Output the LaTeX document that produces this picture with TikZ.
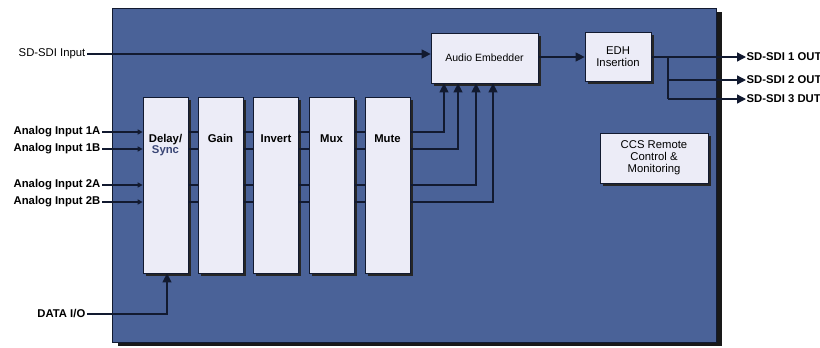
\documentclass[tikz,border=0pt]{standalone}
\usepackage{fontspec}
\setmainfont{Liberation Sans}
\usetikzlibrary{arrows.meta,shadows}
\definecolor{panelc}{RGB}{74,98,152}
\definecolor{boxc}{RGB}{236,236,247}
\definecolor{wirec}{RGB}{18,26,48}
\definecolor{syncc}{RGB}{58,70,118}
\begin{document}
\begin{tikzpicture}[x=1pt,y=-1pt,
  font=\fontsize{11.3}{12}\selectfont,
  shad/.style={drop shadow={shadow xshift=2.5pt,shadow yshift=-2.5pt,fill=black!85,opacity=1}},
  blk/.style={draw=wirec,line width=0.7pt,fill=boxc,shad,inner sep=0pt,align=center},
  bar/.style={blk,minimum width=45pt,minimum height=176pt},
  barlbl/.style={font=\fontsize{11.3}{11}\selectfont\bfseries,anchor=north,yshift=-36pt,inner sep=1.5pt,align=center},
  wire/.style={draw=wirec,line width=1.3pt},
  arr/.style={wire,-{Triangle[length=9pt,width=9pt]}},
  sarr/.style={wire,-{Triangle[length=5pt,width=5pt]}},
  lbl/.style={font=\fontsize{11.3}{12}\selectfont\bfseries,inner sep=1.5pt}]
\useasboundingbox (0,0) rectangle (820,348);
% panel
\node[name=panel,fill=panelc,draw=wirec,line width=0.6pt,minimum width=604pt,minimum height=334pt,inner sep=0pt,
  drop shadow={shadow xshift=6pt,shadow yshift=-4pt,fill=black!90,opacity=1}] at (414,175) {};
% bars
\node[bar,label={[barlbl]north:Delay/\\\textcolor{syncc}{Sync}}] (delay) at (165.5,185) {};
\node[bar,label={[barlbl]north:Gain}] (gain) at (220.5,185) {};
\node[bar,label={[barlbl]north:Invert}] (invert) at (276,185) {};
\node[bar,label={[barlbl]north:Mux}] (mux) at (331.5,185) {};
\node[bar,label={[barlbl]north:Mute}] (mute) at (387.5,185) {};
% other blocks
\node[blk,minimum width=107pt,minimum height=50pt,font=\fontsize{10.5}{12}\selectfont] (emb) at (484.5,58) {Audio Embedder};
\node[blk,minimum width=66pt,minimum height=49pt] (edh) at (618,57) {EDH\\Insertion};
\node[blk,minimum width=108pt,minimum height=50pt] (ccs) at (654,158) {CCS Remote\\Control \&\\Monitoring};
% input labels
\node[inner sep=1.5pt,anchor=east] (sin) at (87,54) {SD-SDI Input};
\node[lbl,anchor=east] (a1) at (102,132) {Analog Input 1A};
\node[lbl,anchor=east] (b1) at (102,149) {Analog Input 1B};
\node[lbl,anchor=east] (a2) at (102,185) {Analog Input 2A};
\node[lbl,anchor=east] (b2) at (102,202) {Analog Input 2B};
\node[lbl,anchor=east] (dio) at (87,314) {DATA I/O};
% output labels
\node[lbl,anchor=west,inner xsep=0.5pt] (o1) at (746,57) {SD-SDI 1 OUT};
\node[lbl,anchor=west,inner xsep=0.5pt] (o2) at (746,80) {SD-SDI 2 OUT};
\node[lbl,anchor=west,inner xsep=0.5pt] (o3) at (746,99) {SD-SDI 3 DUT};
% SD-SDI path
\draw[arr] (sin.east) -- (sin.east -| emb.west);
\draw[arr] (emb.east |- edh.west) -- (edh.west);
\draw[arr] (edh.east) -- (o1.west);
\coordinate (br) at (668,0);
\draw[wire] (br |- edh.east) -- (br |- o3.west);
\draw[arr] (br |- o2.west) -- (o2.west);
\draw[arr] (br |- o3.west) -- (o3.west);
% analog inputs
\draw[sarr] (a1.east) -- (a1.east -| delay.west);
\draw[sarr] (b1.east) -- (b1.east -| delay.west);
\draw[sarr] (a2.east) -- (a2.east -| delay.west);
\draw[sarr] (b2.east) -- (b2.east -| delay.west);
% stubs between bars
\foreach \yy in {132,149,185,202} {
  \coordinate (r) at (0,\yy);
  \draw[wire] (delay.east |- r) -- (gain.west |- r);
  \draw[wire] (gain.east |- r) -- (invert.west |- r);
  \draw[wire] (invert.east |- r) -- (mux.west |- r);
  \draw[wire] (mux.east |- r) -- (mute.west |- r);
}
% mute to embedder
\coordinate (m1) at (444,132);
\coordinate (m2) at (458,149);
\coordinate (m3) at (476,185);
\coordinate (m4) at (493,202);
\draw[arr] (m1 -| mute.east) -- (m1) -- (m1 |- emb.south);
\draw[arr] (m2 -| mute.east) -- (m2) -- (m2 |- emb.south);
\draw[arr] (m3 -| mute.east) -- (m3) -- (m3 |- emb.south);
\draw[arr] (m4 -| mute.east) -- (m4) -- (m4 |- emb.south);
% data I/O
\coordinate (dj) at (167,314);
\draw[arr] (dio.east) -- (dj) -- (dj |- delay.south);
\end{tikzpicture}
\end{document}
